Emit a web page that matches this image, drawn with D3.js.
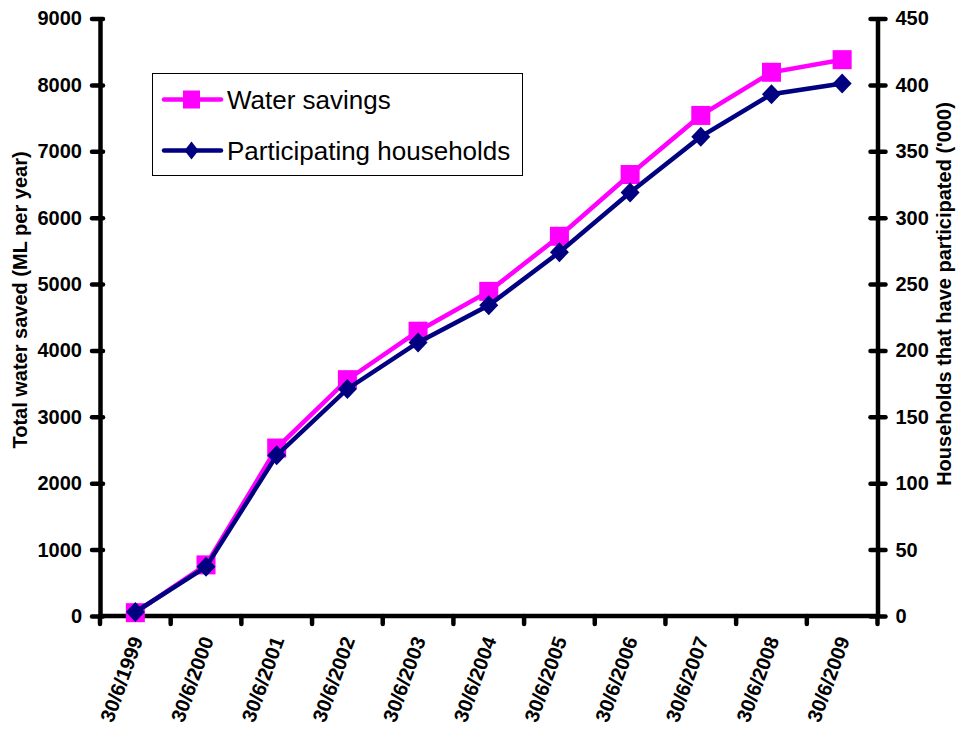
<!DOCTYPE html>
<html><head><meta charset="utf-8">
<script src="https://cdn.jsdelivr.net/npm/d3@7"></script>
<style>body{margin:0;background:#fff}</style></head>
<body><svg id="c" width="957" height="735"></svg>
<script>
const categories = ["30/6/1999","30/6/2000","30/6/2001","30/6/2002","30/6/2003","30/6/2004","30/6/2005","30/6/2006","30/6/2007","30/6/2008","30/6/2009"];
const waterSavings = [50, 770, 2530, 3560, 4290, 4890, 5720, 6650, 7540, 8190, 8380];
const households = [3, 37, 121, 171, 206, 234, 274, 319, 361, 393, 401];
const leftTicks = [0,1000,2000,3000,4000,5000,6000,7000,8000,9000];
const rightTicks = [0,50,100,150,200,250,300,350,400,450];

const svg = d3.select("#c");
const L = 100, R = 877.5, T = 18.5, B = 616;
const x = d3.scaleBand().domain(categories).range([L, R]);
const yL = d3.scaleLinear().domain([0, 9000]).range([B, T]);
const yR = d3.scaleLinear().domain([0, 450]).range([B, T]);
const font = "Arial, 'Liberation Sans', sans-serif";
const fmt = d3.format("d");
const AW = 4.5;

// left axis
const gl = svg.append("g").attr("transform", `translate(${L},0)`)
  .call(d3.axisLeft(yL).tickValues(leftTicks).tickFormat(fmt).tickSize(0).tickPadding(18));
gl.select(".domain").attr("stroke","#000").attr("stroke-width",AW);
gl.selectAll("text").attr("font-family",font).attr("font-weight","bold").attr("font-size",20).attr("fill","#000");
gl.selectAll(".tick").append("line").attr("x1",-8).attr("x2",3).attr("stroke","#000").attr("stroke-width",AW).attr("stroke-linecap","round");

// right axis
const gr = svg.append("g").attr("transform", `translate(${R},0)`)
  .call(d3.axisRight(yR).tickValues(rightTicks).tickFormat(fmt).tickSize(0).tickPadding(18));
gr.select(".domain").attr("stroke","#000").attr("stroke-width",AW);
gr.selectAll("text").attr("font-family",font).attr("font-weight","bold").attr("font-size",20).attr("fill","#000");
gr.selectAll(".tick").append("line").attr("x1",-7).attr("x2",8).attr("stroke","#000").attr("stroke-width",AW).attr("stroke-linecap","round");

// x axis
const gx = svg.append("g").attr("transform", `translate(0,${B})`);
gx.append("line").attr("x1",L).attr("x2",R).attr("stroke","#000").attr("stroke-width",AW);
const bounds = categories.map(c => x(c)).concat([R]);
gx.selectAll(".xt").data(bounds).join("line").attr("x1",d=>d).attr("x2",d=>d).attr("y1",0).attr("y2",8).attr("stroke","#000").attr("stroke-width",AW).attr("stroke-linecap","round");
gx.selectAll(".xl").data(categories).join("text")
  .attr("transform", d => `translate(${x(d)+x.bandwidth()/2+3},22) rotate(-70)`)
  .attr("text-anchor","end").attr("dominant-baseline","middle")
  .attr("font-family",font).attr("font-weight","bold").attr("font-size",20).text(d=>d);

// axis titles
svg.append("text").attr("transform","translate(20,300) rotate(-90)").attr("text-anchor","middle").attr("dominant-baseline","central")
  .attr("font-family",font).attr("font-weight","bold").attr("font-size",20).text("Total water saved (ML per year)");
svg.append("text").attr("transform","translate(944,294) rotate(-90)").attr("text-anchor","middle").attr("dominant-baseline","central")
  .attr("font-family",font).attr("font-weight","bold").attr("font-size",20).text("Households that have participated ('000)");

const cx = c => x(c) + x.bandwidth()/2;
const PINK = "#ff00ff", NAVY = "#000080";
// water savings
svg.append("path").datum(waterSavings).attr("fill","none").attr("stroke",PINK).attr("stroke-width",4.5)
  .attr("d", d3.line().x((d,i)=>cx(categories[i])).y(d=>yL(d)));
svg.selectAll(".sq").data(waterSavings).join("rect")
  .attr("x",(d,i)=>cx(categories[i])-9.5).attr("y",d=>yL(d)-9.5).attr("width",19).attr("height",19).attr("fill",PINK);
// households
svg.append("path").datum(households).attr("fill","none").attr("stroke",NAVY).attr("stroke-width",4.5)
  .attr("d", d3.line().x((d,i)=>cx(categories[i])).y(d=>yR(d)));
const dia = d3.symbol().type(d3.symbolSquare).size(200);
svg.selectAll(".dm").data(households).join("path")
  .attr("transform",(d,i)=>`translate(${cx(categories[i])},${yR(d)}) scale(0.95,1) rotate(45)`)
  .attr("d",dia()).attr("fill",NAVY);

// legend
const lg = svg.append("g");
lg.append("rect").attr("x",152.5).attr("y",73.5).attr("width",370).attr("height",102).attr("fill","#fff").attr("stroke","#000").attr("stroke-width",1);
lg.append("line").attr("x1",164).attr("x2",221).attr("y1",99.5).attr("y2",99.5).attr("stroke",PINK).attr("stroke-width",4.5).attr("stroke-linecap","round");
lg.append("rect").attr("x",183).attr("y",90.5).attr("width",17).attr("height",18).attr("fill",PINK);
lg.append("text").attr("x",227).attr("y",100).attr("dominant-baseline","central").attr("font-family",font).attr("font-size",26).text("Water savings");
lg.append("line").attr("x1",164).attr("x2",221).attr("y1",150.5).attr("y2",150.5).attr("stroke",NAVY).attr("stroke-width",4.5).attr("stroke-linecap","round");
lg.append("path").attr("transform","translate(191.5,150.5) scale(0.78,1) rotate(45)").attr("d",d3.symbol().type(d3.symbolSquare).size(162)()).attr("fill",NAVY);
lg.append("text").attr("x",227).attr("y",151).attr("dominant-baseline","central").attr("font-family",font).attr("font-size",26).text("Participating households");
</script></body></html>
